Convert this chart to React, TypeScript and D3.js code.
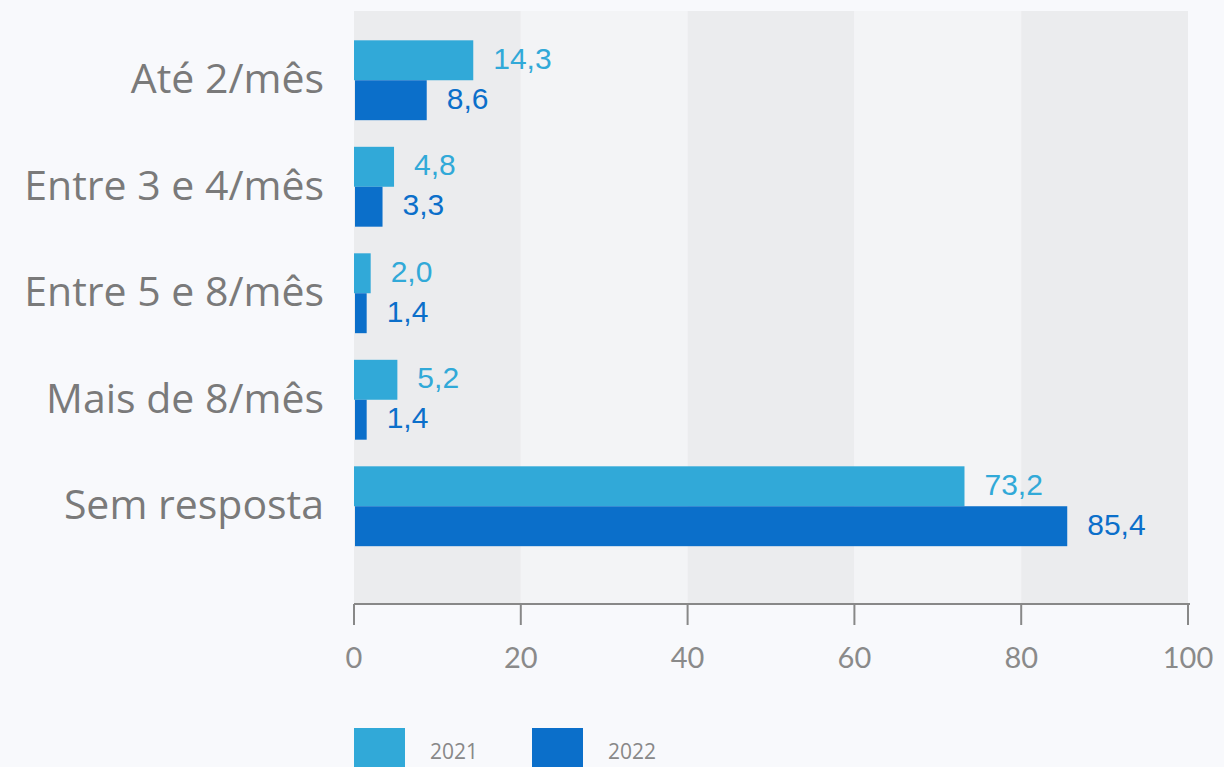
import React from "react";
import * as d3 from "d3";

const categories = ["Até 2/mês", "Entre 3 e 4/mês", "Entre 5 e 8/mês", "Mais de 8/mês", "Sem resposta"];
const values2021 = [14.3, 4.8, 2.0, 5.2, 73.2];
const values2022 = [8.6, 3.3, 1.4, 1.4, 85.4];
const seriesNames = ["2021", "2022"];
const xTicks = [0, 20, 40, 60, 80, 100];

const W = 1224;
const H = 767;
const COLORS = ["#31a9d8", "#0b6fca"];
const fmt = (v: number) => v.toFixed(1).replace(".", ",");

export default function App() {
  const x = d3.scaleLinear().domain([0, 100]).range([354, 1188]);
  const y = d3.scaleBand<string>().domain(categories).range([27, 559.5]).paddingInner(0.25).paddingOuter(0.125);
  const sub = d3.scaleBand<string>().domain(seriesNames).range([0, y.bandwidth()]);
  const series = [values2021, values2022];
  const plotTop = 11;
  const plotBottom = 604;

  return (
    <svg width={W} height={H} style={{ position: "absolute", left: 0, top: 0 }}>
      <rect x={0} y={0} width={W} height={H} fill="#f8f9fc" />
      {/* alternating background bands */}
      {xTicks.slice(0, -1).map((t, i) => (
        <rect
          key={t}
          x={x(t)}
          y={plotTop}
          width={x(xTicks[i + 1]) - x(t)}
          height={plotBottom - plotTop}
          fill={i % 2 === 0 ? "#ebecee" : "#f3f4f6"}
        />
      ))}
      {/* category labels */}
      {categories.map((c) => (
        <text
          key={c}
          x={324}
          y={(y(c) as number) + y.bandwidth() / 2 - 3}
          textAnchor="end"
          dominantBaseline="central"
          fontFamily="'Open Sans', sans-serif"
          fontSize={41}
          fill="#7a7a7a"
        >
          {c}
        </text>
      ))}
      {/* bars and value labels */}
      {series.map((vals, si) =>
        categories.map((c, ci) => {
          const y0 = (y(c) as number) + (sub(seriesNames[si]) as number);
          const x0 = x(0) + si;
          const x1 = x(vals[ci]) + si;
          return (
            <g key={`${si}-${c}`}>
              <rect x={x0} y={y0} width={x1 - x0} height={sub.bandwidth()} fill={COLORS[si]} />
              <text
                x={x1 + 20}
                y={y0 + sub.bandwidth() / 2 - 2}
                dominantBaseline="central"
                fontFamily="'Liberation Sans', Arial, sans-serif"
                fontSize={30}
                fill={COLORS[si]}
              >
                {fmt(vals[ci])}
              </text>
            </g>
          );
        })
      )}
      {/* x axis */}
      <line x1={x(0)} x2={x(100) + 2} y1={plotBottom} y2={plotBottom} stroke="#888" strokeWidth={2} />
      {xTicks.map((t) => (
        <g key={t}>
          <line x1={x(t)} x2={x(t)} y1={plotBottom} y2={625} stroke="#888" strokeWidth={2} />
          <text
            x={x(t)}
            y={668}
            textAnchor="middle"
            fontFamily="Lato, sans-serif"
            fontSize={29}
            fill="#8a8a8a"
          >
            {t}
          </text>
        </g>
      ))}
      {/* legend */}
      {seriesNames.map((s, i) => (
        <g key={s} transform={`translate(${354 + i * 178},728)`}>
          <rect x={0} y={0} width={51} height={45} fill={COLORS[i]} />
          <text x={76} y={31} fontFamily="'Open Sans', sans-serif" fontSize={21} fill="#888">
            {s}
          </text>
        </g>
      ))}
    </svg>
  );
}
